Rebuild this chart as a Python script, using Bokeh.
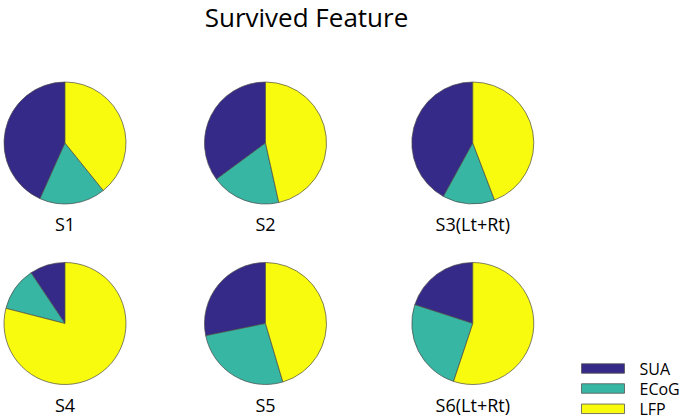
import math
from bokeh.plotting import figure
from bokeh.models import Range1d, ColumnDataSource
from bokeh.core.properties import value
from bokeh.embed import file_html
from bokeh.resources import INLINE

# ---- data ----
subjects = ["S1", "S2", "S3(Lt+Rt)", "S4", "S5", "S6(Lt+Rt)"]
features = ["SUA", "ECoG", "LFP"]
sua = [0.433, 0.351, 0.420, 0.094, 0.282, 0.200]
ecog = [0.175, 0.184, 0.138, 0.116, 0.264, 0.249]
lfp = [0.392, 0.465, 0.442, 0.790, 0.454, 0.551]
colors = ["#352a87", "#36b6a3", "#f9fb0e"]

W, H = 686, 419
def X(px):
    return px
def Y(py):
    return H - py

col_x = [64.5, 265.0, 472.3]
row_y = [142.5, 323.0]
R = 61
label_dy = 81

p = figure(width=W, height=H, output_backend="svg", toolbar_location=None,
           x_range=Range1d(0, W), y_range=Range1d(0, H), min_border=0)
p.axis.visible = False
p.grid.visible = False
p.outline_line_color = None
p.background_fill_color = "white"

xs, ys, starts, ends, fills = [], [], [], [], []
lx, ly, lt = [], [], []
for i, name in enumerate(subjects):
    cx = X(col_x[i % 3])
    cy = Y(row_y[i // 3])
    vals = [sua[i], ecog[i], lfp[i]]
    tot = sum(vals)
    cum = 0.0
    for j, v in enumerate(vals):
        a0 = math.pi / 2 + 2 * math.pi * cum / tot
        cum += v
        a1 = math.pi / 2 + 2 * math.pi * cum / tot
        xs.append(cx); ys.append(cy); starts.append(a0); ends.append(a1)
        fills.append(colors[j])
    lx.append(cx); ly.append(Y(row_y[i // 3] + label_dy)); lt.append(name)

src = ColumnDataSource(dict(x=xs, y=ys, s=starts, e=ends, c=fills))
p.wedge(x="x", y="y", radius=R, start_angle="s", end_angle="e", source=src,
        fill_color="c", line_color="#4a4a4a", line_width=0.7, direction="anticlock")

p.text(x=lx, y=ly, text=lt, text_align="center", text_baseline="middle",
       text_font=value("Open Sans"), text_font_size="18px", text_color="#000000")

# title
p.text(x=[X(306)], y=[Y(16)], text=["Survived Feature"], text_align="center",
       text_baseline="middle", text_font=value("Open Sans"), text_font_size="26px",
       text_color="#000000")

# legend
leg_y = [368.0, 388.0, 408.3]
p.rect(x=[X(602.5)] * 3, y=[Y(v) for v in leg_y], width=43, height=9.5,
       fill_color=colors, line_color="#555555", line_width=0.8)
p.text(x=[X(639)] * 3, y=[Y(v) for v in leg_y], text=features, text_align="left",
       text_baseline="middle", text_font=value("Open Sans"), text_font_size="16px",
       text_color="#000000")

open("out.html", "w").write(file_html(p, INLINE))
